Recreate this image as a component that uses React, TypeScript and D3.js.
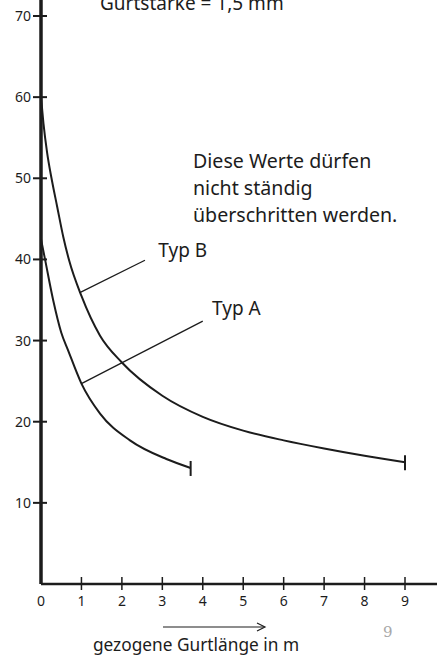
import React from 'react';
import * as d3 from 'd3';

// Gurtkraft-Kurven
const typBLength = [0, 0.06, 0.15, 0.26, 0.4, 0.55, 0.7, 1.0, 1.46, 2.0, 3.0, 4.0, 5.0, 6.0, 7.0, 8.0, 9.0];
const typBForce = [60, 56.8, 53.2, 50, 46.5, 42.8, 39.8, 35.5, 30.6, 27.3, 23.2, 20.6, 18.9, 17.7, 16.7, 15.8, 15.0];
const typALength = [0, 0.1, 0.3, 0.5, 0.67, 1.0, 1.46, 2.2, 3.1, 3.7];
const typAForce = [42.5, 40, 35, 31, 28.8, 24.7, 21, 17.7, 15.4, 14.3];

const yTicks = [10, 20, 30, 40, 50, 60, 70];
const xTicks = [0, 1, 2, 3, 4, 5, 6, 7, 8, 9];
const noteLines = ['Diese Werte dürfen', 'nicht ständig', 'überschritten werden.'];

const W = 437;
const H = 658;
const font = '"Noto Sans", sans-serif';
const ink = '#1c1c1c';

const App = () => {
  const x = d3.scaleLinear().domain([0, 9]).range([41, 405]);
  const y = d3.scaleLinear().domain([0, 70]).range([584, 16]);

  const line = d3
    .line<[number, number]>()
    .x((d) => x(d[0]))
    .y((d) => y(d[1]))
    .curve(d3.curveMonotoneX);

  const typB = typBLength.map((l, i) => [l, typBForce[i]] as [number, number]);
  const typA = typALength.map((l, i) => [l, typAForce[i]] as [number, number]);
  const endB = typB[typB.length - 1];
  const endA = typA[typA.length - 1];

  return (
    <svg width={W} height={H} style={{ position: 'absolute', left: 0, top: 0, background: '#fff' }}>
      {/* Titel oben (im Original abgeschnitten) */}
      <text x={100} y={10} fontFamily={font} fontSize={19} fill={ink}>
        Gurtstärke = 1,5 mm
      </text>

      {/* Y-Achse */}
      <line x1={x(0)} x2={x(0)} y1={-5} y2={y(0)} stroke={ink} strokeWidth={3.5} />
      {yTicks.map((t) => (
        <g key={t}>
          <line x1={x(0) - 8} x2={x(0) + 6} y1={y(t)} y2={y(t)} stroke={ink} strokeWidth={2} />
          <text x={31} y={y(t) + 5} textAnchor="end" fontFamily={font} fontSize={14} fill={ink}>
            {t}
          </text>
        </g>
      ))}

      {/* X-Achse */}
      <line x1={x(0)} x2={W} y1={y(0)} y2={y(0)} stroke={ink} strokeWidth={2.5} />
      {xTicks.map((t) => (
        <g key={t}>
          {t > 0 && <line x1={x(t)} x2={x(t)} y1={y(0) - 7} y2={y(0) + 6} stroke={ink} strokeWidth={1.5} />}
          <text x={x(t)} y={606} textAnchor="middle" fontFamily={font} fontSize={14} fill={ink}>
            {t}
          </text>
        </g>
      ))}

      {/* Kurven */}
      <path d={line(typB) || ''} fill="none" stroke={ink} strokeWidth={2} />
      <path d={line(typA) || ''} fill="none" stroke={ink} strokeWidth={2} />
      <line x1={x(endB[0])} x2={x(endB[0])} y1={y(endB[1]) - 7} y2={y(endB[1]) + 8} stroke={ink} strokeWidth={2} />
      <line x1={x(endA[0])} x2={x(endA[0])} y1={y(endA[1]) - 7} y2={y(endA[1]) + 8} stroke={ink} strokeWidth={2} />

      {/* Beschriftungen mit Hinweislinien */}
      <line x1={x(0.96)} y1={y(35.9)} x2={x(2.57)} y2={y(39.9)} stroke={ink} strokeWidth={1.3} />
      <text x={x(2.9)} y={y(40.3)} fontFamily={font} fontSize={19} fill={ink}>
        Typ B
      </text>
      <line x1={x(1.0)} y1={y(24.7)} x2={x(4.0)} y2={y(32.4)} stroke={ink} strokeWidth={1.3} />
      <text x={x(4.23)} y={y(33.2)} fontFamily={font} fontSize={19} fill={ink}>
        Typ A
      </text>

      {noteLines.map((s, i) => (
        <text key={s} x={193} y={168 + i * 27} fontFamily={font} fontSize={19.6} fill={ink}>
          {s}
        </text>
      ))}

      {/* Achsentitel mit Pfeil */}
      <line x1={163} x2={264} y1={627} y2={627} stroke={ink} strokeWidth={1.2} />
      <path d="M257,623 L265,627 L257,631" fill="none" stroke={ink} strokeWidth={1.2} />
      <text x={196} y={651} textAnchor="middle" fontFamily={font} fontSize={17.3} fill={ink}>
        gezogene Gurtlänge in m
      </text>

      {/* Seitenzahl */}
      <text x={383} y={637} fontFamily="DejaVu Serif, serif" fontSize={15} fill="#a8a8a8">
        9
      </text>
    </svg>
  );
};

export default App;
